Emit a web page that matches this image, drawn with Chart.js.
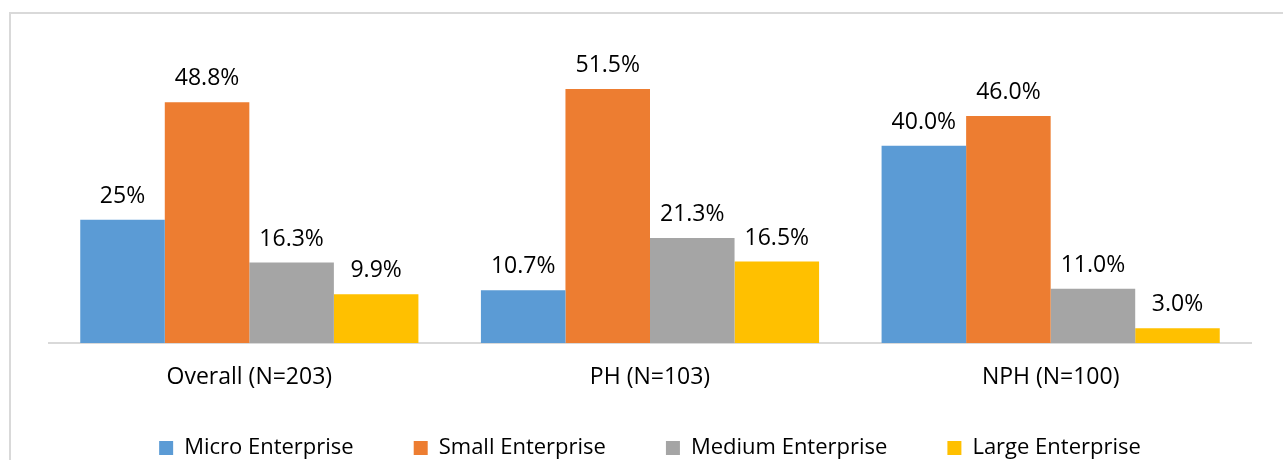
<!DOCTYPE html>
<html>
<head>
<meta charset="utf-8">
<script src="https://cdn.jsdelivr.net/npm/chart.js@4.4.1/dist/chart.umd.min.js"></script>
<style>
  html, body { margin: 0; padding: 0; background: #fff; overflow: hidden; }
  #frame {
    position: absolute; left: 9px; top: 12px; width: 1400px; height: 600px;
    border-left: 2px solid #d9d9d9; border-top: 2px solid #d9d9d9;
  }
  #wrap { position: absolute; left: 0; top: 0; width: 1283px; height: 485px; }
</style>
</head>
<body>
<div id="frame"></div>
<div id="wrap"><canvas id="chart"></canvas></div>
<script>
const groups = ['Overall (N=203)', 'PH (N=103)', 'NPH (N=100)'];
const micro = [25, 10.7, 40.0];
const small = [48.8, 51.5, 46.0];
const medium = [16.3, 21.3, 11.0];
const large = [9.9, 16.5, 3.0];
// decimals shown in each value label
const microDigits = [0, 1, 1];
const otherDigits = [1, 1, 1];

const FONT = '"Open Sans", sans-serif';

// draws the percentage above each bar
const valueLabels = {
    id: 'valueLabels',
    afterDatasetsDraw(chart) {
        const ctx = chart.ctx;
        ctx.save();
        ctx.font = '23px ' + FONT;
        ctx.fillStyle = '#000';
        ctx.textAlign = 'center';
        ctx.textBaseline = 'alphabetic';
        chart.data.datasets.forEach((ds, i) => {
            chart.getDatasetMeta(i).data.forEach((bar, j) => {
                const text = ds.data[j].toFixed(ds.digits[j]) + '%';
                ctx.fillText(text, bar.x, bar.y - 17);
            });
        });
        ctx.restore();
    }
};

// the legend padding also sets the item spacing, so pull the row up afterwards
const liftLegend = {
    id: 'liftLegend',
    afterLayout(chart) {
        chart.legend.top -= 16;
        chart.legend.bottom -= 16;
    }
};

new Chart(document.getElementById('chart'), {
    type: 'bar',
    data: {
        labels: groups,
        datasets: [
            { label: 'Micro Enterprise', data: micro, digits: microDigits, backgroundColor: '#5b9bd5' },
            { label: 'Small Enterprise', data: small, digits: otherDigits, backgroundColor: '#ed7d31' },
            { label: 'Medium Enterprise', data: medium, digits: otherDigits, backgroundColor: '#a5a5a5' },
            { label: 'Large Enterprise', data: large, digits: otherDigits, backgroundColor: '#ffc000' }
        ]
    },
    options: {
        responsive: true,
        maintainAspectRatio: false,
        animation: false,
        events: [],
        categoryPercentage: 0.844,
        barPercentage: 1,
        layout: { padding: { left: 49, right: 32, top: 47, bottom: 0 } },
        scales: {
            x: {
                grid: { display: false, drawTicks: false },
                border: { display: true, color: '#d9d9d9', width: 2 },
                ticks: {
                    color: '#000',
                    padding: 29,
                    font: { family: FONT, size: 23, lineHeight: 0.5 }
                },
                afterFit(scale) {
                    scale.height = 50;
                }
            },
            y: {
                display: false,
                min: 0,
                max: 60
            }
        },
        plugins: {
            tooltip: { enabled: false },
            legend: {
                position: 'bottom',
                labels: {
                    color: '#000',
                    boxWidth: 14,
                    boxHeight: 14,
                    padding: 60,
                    font: { family: FONT, size: 22 }
                }
            }
        }
    },
    plugins: [valueLabels, liftLegend]
});
</script>
</body>
</html>
